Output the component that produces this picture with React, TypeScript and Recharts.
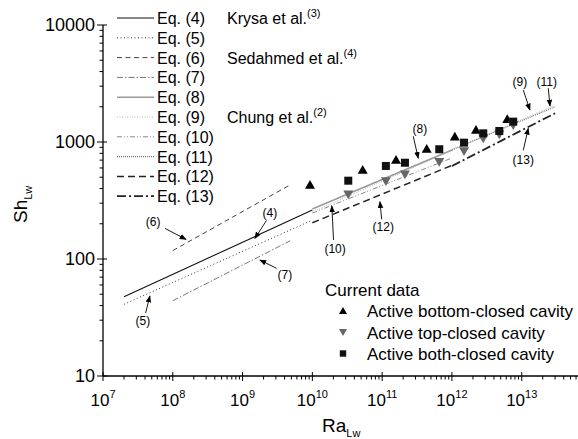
import React from "react";
import {
  ComposedChart,
  Line,
  Scatter,
  XAxis,
  YAxis,
  ReferenceDot,
} from "recharts";

const FONT = "'Liberation Sans', Arial, Helvetica, sans-serif";

// axis ticks
const X_MAJOR = [1e7, 1e8, 1e9, 1e10, 1e11, 1e12, 1e13];
const Y_MAJOR = [10, 100, 1000, 10000];
const MINOR_STEPS = [2, 3, 4, 5, 6, 7, 8, 9];
const X_DOMAIN: [number, number] = [1e7, 6.4e13];
const Y_DOMAIN: [number, number] = [10, 10000];

// correlations (end points of each power law)
const eq4 = [{ ra: 2e7, sh: 47.5 }, { ra: 1e10, sh: 262 }];
const eq5 = [{ ra: 2e7, sh: 41 }, { ra: 1e10, sh: 215 }];
const eq6 = [{ ra: 1e8, sh: 118 }, { ra: 4.8e9, sh: 430 }];
const eq7 = [{ ra: 1e8, sh: 44 }, { ra: 4.8e9, sh: 143 }];
const eq8 = [{ ra: 1e10, sh: 267 }, { ra: 1e12, sh: 855 }];
const eq9 = [{ ra: 1e10, sh: 252 }, { ra: 3e13, sh: 2070 }];
const eq10 = [{ ra: 1e10, sh: 247 }, { ra: 1e12, sh: 730 }];
const eq11 = [{ ra: 1e12, sh: 860 }, { ra: 3e13, sh: 2000 }];
const eq12 = [{ ra: 1e10, sh: 204 }, { ra: 1e12, sh: 631 }];
const eq13 = [{ ra: 1e12, sh: 624 }, { ra: 3e13, sh: 1760 }];

// current data
const bottomClosed = [
  { ra: 9.25e9, sh: 429 },
  { ra: 5.26e10, sh: 577 },
  { ra: 1.58e11, sh: 702 },
  { ra: 4.35e11, sh: 871 },
  { ra: 1.1e12, sh: 1109 },
  { ra: 2.21e12, sh: 1267 },
  { ra: 6.2e12, sh: 1563 },
];
const topClosed = [
  { ra: 3.27e10, sh: 357 },
  { ra: 1.13e11, sh: 464 },
  { ra: 2.12e11, sh: 530 },
  { ra: 6.58e11, sh: 679 },
  { ra: 1.49e12, sh: 838 },
  { ra: 2.81e12, sh: 1077 },
  { ra: 4.77e12, sh: 1164 },
  { ra: 7.55e12, sh: 1397 },
];
const bothClosed = [
  { ra: 3.27e10, sh: 467 },
  { ra: 1.13e11, sh: 624 },
  { ra: 2.12e11, sh: 665 },
  { ra: 6.58e11, sh: 867 },
  { ra: 1.49e12, sh: 987 },
  { ra: 2.81e12, sh: 1186 },
  { ra: 4.77e12, sh: 1242 },
  { ra: 7.55e12, sh: 1493 },
];

// arrow annotations: label and the point on the curve it points at
const NOTE_LABELS = ["(4)", "(6)", "(7)", "(5)", "(10)", "(12)", "(8)", "(9)", "(11)", "(13)"];
const NOTE_TIPS = [
  { ra: 1.5e9, sh: 150 },
  { ra: 1.55e8, sh: 147 },
  { ra: 1.77e9, sh: 98 },
  { ra: 4.7e7, sh: 48.3 },
  { ra: 1.9e10, sh: 284 },
  { ra: 9.3e10, sh: 309 },
  { ra: 3.29e11, sh: 726 },
  { ra: 1.31e13, sh: 1878 },
  { ra: 2.54e13, sh: 2032 },
  { ra: 1.24e13, sh: 1309 },
];
// pixel offsets from the tip: [text dx, text dy, arrow start dx, arrow start dy]
const NOTE_OFFSETS: Record<string, number[]> = {
  "(4)": [15, -25, 11.7, -18],
  "(6)": [-33, -17, -21, -11],
  "(7)": [25, 15, 16.7, 8.3],
  "(5)": [-7, 25, -4.3, 17],
  "(10)": [3.3, 43, 1.7, 34],
  "(12)": [3.3, 25, 1.7, 17.6],
  "(8)": [1.7, -29, -5, -22],
  "(9)": [-10, -28, -6.7, -20],
  "(11)": [-3.3, -24, -1.7, -17.7],
  "(13)": [-5, 32, -5, 22],
};

const SERIES = [
  { name: "Eq. (4)", data: eq4, stroke: "#111", width: 1.1, dash: undefined },
  { name: "Eq. (5)", data: eq5, stroke: "#333", width: 1, dash: "1 2.5" },
  { name: "Eq. (6)", data: eq6, stroke: "#444", width: 1, dash: "5 3.5" },
  { name: "Eq. (7)", data: eq7, stroke: "#777", width: 1, dash: "6 2 1.5 2" },
  { name: "Eq. (8)", data: eq8, stroke: "#999", width: 1.6, dash: undefined },
  { name: "Eq. (9)", data: eq9, stroke: "#b5b5b5", width: 1, dash: "1 1.5" },
  { name: "Eq. (10)", data: eq10, stroke: "#888", width: 1, dash: "5 2 1 2 1 2" },
  { name: "Eq. (11)", data: eq11, stroke: "#777", width: 1.3, dash: "1 1" },
  { name: "Eq. (12)", data: eq12, stroke: "#222", width: 1.5, dash: "7 4" },
  { name: "Eq. (13)", data: eq13, stroke: "#222", width: 1.8, dash: "9 3 2 3" },
];

const GROUPS = [
  { row: 0, text: "Krysa et al.", ref: "(3)" },
  { row: 2, text: "Sedahmed et al.", ref: "(4)" },
  { row: 5, text: "Chung et al.", ref: "(2)" },
];

const withMinor = (majors: number[], max: number) =>
  [...majors, ...majors.flatMap((d) => MINOR_STEPS.map((m) => m * d))]
    .filter((v) => v <= max)
    .sort((a, b) => a - b);

const X_TICKS = withMinor(X_MAJOR, X_DOMAIN[1]);
const Y_TICKS = withMinor(Y_MAJOR, Y_DOMAIN[1]);

function XTick(props: any) {
  const { x, y, payload } = props;
  const v = payload.value;
  const major = X_MAJOR.includes(v);
  const exp = Math.round(Math.log10(v));
  return (
    <g>
      <line x1={x} x2={x} y1={major ? y - 4 : y} y2={y + (major ? 5 : 3.5)} stroke="#000" strokeWidth={1} />
      {major && (
        <text x={x} y={y + 30} textAnchor="middle" fontSize={17} fontFamily={FONT} fill="#000">
          10
          <tspan dy={-8} fontSize={11}>
            {exp}
          </tspan>
        </text>
      )}
    </g>
  );
}

function YTick(props: any) {
  const { x, y, payload } = props;
  const v = payload.value;
  const major = Y_MAJOR.includes(v);
  return (
    <g>
      <line x1={major ? x + 4 : x} x2={x - (major ? 6 : 3.5)} y1={y} y2={y} stroke="#000" strokeWidth={1} />
      {major && (
        <text x={x - 8} y={y + 6} textAnchor="end" fontSize={18} fontFamily={FONT} fill="#000">
          {v}
        </text>
      )}
    </g>
  );
}

function TriUp({ cx = 0, cy = 0, s = 5, fill = "#000" }: any) {
  return <path d={`M${cx},${cy - s} L${cx + s},${cy + s * 0.75} L${cx - s},${cy + s * 0.75} Z`} fill={fill} />;
}
function TriDown({ cx = 0, cy = 0, s = 5, fill = "#666" }: any) {
  return <path d={`M${cx},${cy + s} L${cx + s},${cy - s * 0.75} L${cx - s},${cy - s * 0.75} Z`} fill={fill} />;
}
function Square({ cx = 0, cy = 0, s = 4, fill = "#111" }: any) {
  return <rect x={cx - s} y={cy - s} width={2 * s} height={2 * s} fill={fill} />;
}

function Note({ cx = 0, cy = 0, label }: any) {
  const [tx, ty, sx, sy] = NOTE_OFFSETS[label];
  return (
    <g>
      <line
        x1={cx + sx}
        y1={cy + sy}
        x2={cx}
        y2={cy}
        stroke="#000"
        strokeWidth={0.9}
        markerEnd="url(#arrowHead)"
      />
      <text x={cx + tx} y={cy + ty + 4} textAnchor="middle" fontSize={12} fontFamily={FONT} fill="#000">
        {label}
      </text>
    </g>
  );
}

const LEG_X = 117;
const LEG_Y0 = 18;
const LEG_STEP = 19.8;

export default function App() {
  return (
    <div style={{ position: "absolute", left: 0, top: 0, width: 578, height: 439, background: "#fff" }}>
      <ComposedChart
        width={578}
        height={439}
        margin={{ top: 25, right: 0, bottom: 33, left: 43 }}
        style={{ fontFamily: FONT }}
      >
        <defs>
          <marker
            id="arrowHead"
            viewBox="0 0 10 10"
            refX="9"
            refY="5"
            markerWidth="7"
            markerHeight="7"
            markerUnits="userSpaceOnUse"
            orient="auto"
          >
            <path d="M0,1 L10,5 L0,9 Z" fill="#000" />
          </marker>
        </defs>
        <XAxis
          type="number"
          dataKey="ra"
          scale="log"
          domain={X_DOMAIN}
          allowDataOverflow
          ticks={X_TICKS}
          interval={0}
          tick={<XTick />}
          tickLine={false}
          tickSize={0}
          tickMargin={0}
          height={30}
          axisLine={{ stroke: "#000", strokeWidth: 1.3 }}
        />
        <YAxis
          type="number"
          dataKey="sh"
          scale="log"
          domain={Y_DOMAIN}
          allowDataOverflow
          ticks={Y_TICKS}
          interval={0}
          tick={<YTick />}
          tickLine={false}
          tickSize={0}
          tickMargin={0}
          width={60}
          axisLine={{ stroke: "#000", strokeWidth: 1.3 }}
        />

        {SERIES.map((s) => (
          <Line
            key={s.name}
            data={s.data}
            dataKey="sh"
            type="linear"
            stroke={s.stroke}
            strokeWidth={s.width}
            strokeDasharray={s.dash}
            dot={false}
            activeDot={false}
            isAnimationActive={false}
          />
        ))}

        <Scatter data={bottomClosed} dataKey="sh" shape={<TriUp />} isAnimationActive={false} />
        <Scatter data={topClosed} dataKey="sh" shape={<TriDown />} isAnimationActive={false} />
        <Scatter data={bothClosed} dataKey="sh" shape={<Square />} isAnimationActive={false} />

        {NOTE_TIPS.map((p, i) => (
          <ReferenceDot
            key={NOTE_LABELS[i]}
            x={p.ra}
            y={p.sh}
            r={0}
            shape={(props: any) => <Note {...props} label={NOTE_LABELS[i]} />}
          />
        ))}

        {/* legend of correlations */}
        {SERIES.map((s, i) => {
          const cy = LEG_Y0 + i * LEG_STEP;
          return (
            <g key={"leg" + s.name}>
              <line
                x1={LEG_X}
                x2={LEG_X + 37}
                y1={cy}
                y2={cy}
                stroke={s.stroke}
                strokeWidth={s.width}
                strokeDasharray={s.dash}
              />
              <text x={LEG_X + 40} y={cy + 6} fontSize={16} fontFamily={FONT} fill="#000">
                {s.name}
              </text>
            </g>
          );
        })}
        {GROUPS.map((g) => (
          <text
            key={g.text}
            x={227}
            y={LEG_Y0 + g.row * LEG_STEP + 6}
            fontSize={16}
            fontFamily={FONT}
            fill="#000"
          >
            {g.text}
            <tspan dy={-7} fontSize={11}>
              {g.ref}
            </tspan>
          </text>
        ))}

        {/* legend of current data */}
        <text x={325} y={296} fontSize={17} fontFamily={FONT} fill="#000">
          Current data
        </text>
        <TriUp cx={343} cy={311} s={4} />
        <text x={367} y={317} fontSize={17} fontFamily={FONT} fill="#000">
          Active bottom-closed cavity
        </text>
        <TriDown cx={343} cy={332} s={4} />
        <text x={367} y={338.5} fontSize={17} fontFamily={FONT} fill="#000">
          Active top-closed cavity
        </text>
        <Square cx={343} cy={353.5} s={3.2} />
        <text x={367} y={359.5} fontSize={17} fontFamily={FONT} fill="#000">
          Active both-closed cavity
        </text>

        {/* axis titles */}
        <text transform="translate(27,223) rotate(-90)" fontSize={19} fontFamily={FONT} fill="#000">
          Sh
          <tspan dy={5} fontSize={11}>
            Lw
          </tspan>
        </text>
        <text x={322} y={432} fontSize={19} fontFamily={FONT} fill="#000">
          Ra
          <tspan dy={5} fontSize={11}>
            Lw
          </tspan>
        </text>
      </ComposedChart>
    </div>
  );
}
